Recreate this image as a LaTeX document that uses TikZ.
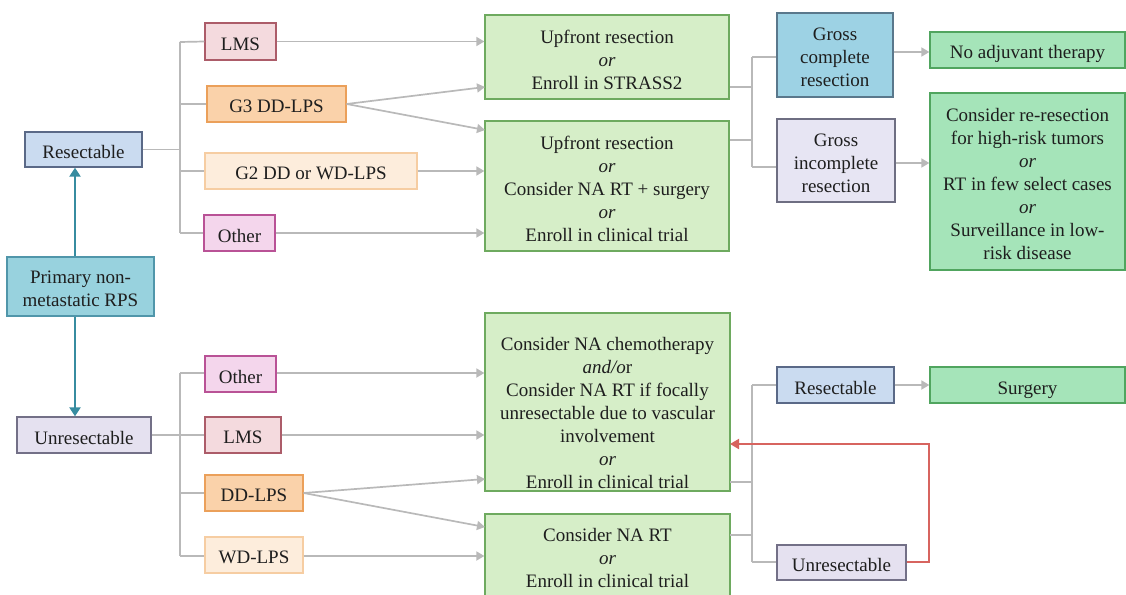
\documentclass[tikz,border=0pt]{standalone}
\usepackage{fontspec}
\setmainfont{Liberation Serif}
\usetikzlibrary{arrows.meta}
\definecolor{txt}{RGB}{30,30,30}
\definecolor{conn}{RGB}{185,185,185}
\definecolor{tealc}{RGB}{55,140,160}
\definecolor{redc}{RGB}{215,100,95}
\definecolor{resF}{RGB}{202,219,240}\definecolor{resD}{RGB}{90,105,135}
\definecolor{unrF}{RGB}{229,225,240}\definecolor{unrD}{RGB}{115,112,135}
\definecolor{priF}{RGB}{152,210,222}\definecolor{priD}{RGB}{80,150,170}
\definecolor{lmsF}{RGB}{244,218,222}\definecolor{lmsD}{RGB}{172,92,105}
\definecolor{gtF}{RGB}{250,210,170}\definecolor{gtD}{RGB}{235,160,90}
\definecolor{gwF}{RGB}{253,237,220}\definecolor{gwD}{RGB}{246,205,162}
\definecolor{othF}{RGB}{244,214,236}\definecolor{othD}{RGB}{185,82,150}
\definecolor{lgF}{RGB}{214,238,200}\definecolor{lgD}{RGB}{110,170,95}
\definecolor{mgF}{RGB}{165,228,185}\definecolor{mgD}{RGB}{80,165,95}
\definecolor{gcF}{RGB}{157,210,228}\definecolor{gcD}{RGB}{90,120,140}
\definecolor{giF}{RGB}{231,229,243}\definecolor{giD}{RGB}{110,110,130}
% \mybox[text shift]{name}{x,y}{w}{h}{fill}{draw}{text}
\newcommand\mybox[8][-2.5pt]{%
  \node[boxst,minimum width=#4pt,minimum height=#5pt,fill=#6,draw=#7] (#2) at (#3) {};
  \node[lbl,yshift=#1] (#2t) at (#2) {#8};}
\begin{document}
\begin{tikzpicture}[x=1pt,y=-1pt,
  boxst/.style={line width=1.3pt, inner sep=0pt},
  lbl/.style={inner sep=0pt, align=center, text=txt,
     font=\fontsize{19}{23}\selectfont},
  ln/.style={draw=conn, line width=1.7pt},
  ar/.style={ln, -{Triangle[length=8pt,width=9pt]}},
  tar/.style={draw=tealc, line width=2.2pt, -{Triangle[length=9pt,width=11pt]}},
  rar/.style={draw=redc, line width=2pt, -{Triangle[length=9pt,width=10pt]}}]
\useasboundingbox (0,0) rectangle (1126,594);
\clip (0,0) rectangle (1126,594);
% left column
\mybox{res}{83.5,149.5}{117}{35}{resF}{resD}{Resectable}
\mybox{prim}{80.5,286.5}{147}{59}{priF}{priD}{Primary non-\\metastatic RPS}
\mybox{unres}{84,435}{134}{36}{unrF}{unrD}{Unresectable}
% top subtypes
\mybox{lms1}{240.5,41.5}{71}{37}{lmsF}{lmsD}{LMS}
\mybox{g3}{276.5,104}{139}{36}{gtF}{gtD}{G3 DD-LPS}
\mybox{g2}{311,171}{212}{36}{gwF}{gwD}{G2 DD or WD-LPS}
\mybox{oth1}{239.5,233}{71}{36}{othF}{othD}{Other}
% bottom subtypes
\mybox{oth2}{240.5,374}{71}{36}{othF}{othD}{Other}
\mybox{lms2}{243,435}{76}{36}{lmsF}{lmsD}{LMS}
\mybox{dd}{254,493}{98}{36}{gtF}{gtD}{DD-LPS}
\mybox{wd}{254,555}{98}{36}{gwF}{gwD}{WD-LPS}
% treatment boxes
\mybox{b1}{607,57}{244}{84}{lgF}{lgD}{Upfront resection\\\textit{or}\\Enroll in STRASS2}
\mybox{b2}{607,186}{244}{130}{lgF}{lgD}{Upfront resection\\\textit{or}\\Consider NA RT + surgery\\\textit{or}\\Enroll in clinical trial}
\node[boxst,minimum width=245pt,minimum height=178pt,fill=lgF,draw=lgD] (b3) at (607.5,402) {};
\node[lbl] (b3t) at (607.5,413) {Consider NA chemotherapy\\\textit{and/o}r\\Consider NA RT if focally\\unresectable due to vascular\\involvement\\\textit{or}\\Enroll in clinical trial};
\node[boxst,minimum width=245pt,minimum height=88pt,fill=lgF,draw=lgD] (b4) at (607.5,558) {};
\node[lbl] (b4t) at (607.5,558) {Consider NA RT\\\textit{or}\\Enroll in clinical trial};
% outcomes
\mybox{gcr}{835,55}{116}{84}{gcF}{gcD}{Gross\\complete\\resection}
\mybox{gir}{836,160.5}{118}{83}{giF}{giD}{Gross\\incomplete\\resection}
\mybox[-4pt]{noadj}{1027.5,50}{195}{36}{mgF}{mgD}{No adjuvant therapy}
\mybox{cons}{1027.5,181.5}{195}{177}{mgF}{mgD}{Consider re-resection\\for high-risk tumors\\\textit{or}\\RT in few select cases\\\textit{or}\\Surveillance in low-\\risk disease}
\mybox{res2}{835.5,385}{117}{36}{resF}{resD}{Resectable}
\mybox[-5pt]{surg}{1027.5,385}{195}{36}{mgF}{mgD}{Surgery}
\mybox{unres2}{841.5,562.5}{129}{35}{unrF}{unrD}{Unresectable}
% coordinates
\coordinate (tx) at (75,0);
\coordinate (tA) at (180,42);
\coordinate (tB) at (180,233);
\coordinate (tC) at (180,373);
\coordinate (tD) at (180,556);
\coordinate (g3u) at (485,87);
\coordinate (g3d) at (485,130);
\coordinate (ddu) at (485,479);
\coordinate (ddd) at (485,527);
\coordinate (rA) at (752,57);
\coordinate (rB) at (752,167);
\coordinate (rC) at (752,385);
\coordinate (rD) at (752,562);
\coordinate (o1) at (730,87);
\coordinate (o2) at (730,140);
\coordinate (o3) at (730,482);
\coordinate (o4) at (730,535);
\coordinate (gy) at (0,52);
\coordinate (iy) at (0,163);
\coordinate (redc1) at (929,444);
\coordinate (redin) at (730,444);
% teal arrows
\draw[tar] (prim.north -| tx) -- (res.south -| tx);
\draw[tar] (prim.south -| tx) -- (unres.north -| tx);
% top tree
\draw[ln] (tA) -- (tB);
\draw[ln] (res.east) -- (res.east -| tA);
\draw[ln] (tA) -- (lms1.west);
\draw[ln] (g3.west -| tA) -- (g3.west);
\draw[ln] (g2.west -| tA) -- (g2.west);
\draw[ln] (tB) -- (oth1.west);
\draw[ar] (lms1.east) -- (lms1.east -| b1.west);
\draw[ar] (g3.east) -- (g3u);
\draw[ar] (g3.east) -- (g3d);
\draw[ar] (g2.east) -- (g2.east -| b2.west);
\draw[ar] (oth1.east) -- (oth1.east -| b2.west);
% bottom tree
\draw[ln] (tC) -- (tD);
\draw[ln] (unres.east) -- (unres.east -| tC);
\draw[ln] (tC) -- (oth2.west |- tC);
\draw[ln] (lms2.west -| tC) -- (lms2.west);
\draw[ln] (dd.west -| tC) -- (dd.west);
\draw[ln] (tD) -- (wd.west |- tD);
\draw[ar] (oth2.east |- tC) -- (b3.west |- tC);
\draw[ar] (lms2.east) -- (lms2.east -| b3.west);
\draw[ar] (dd.east) -- (ddu);
\draw[ar] (dd.east) -- (ddd);
\draw[ar] (wd.east |- tD) -- (b4.west |- tD);
% right top
\draw[ln] (o1) -- (o1 -| rA);
\draw[ln] (o2) -- (o2 -| rA);
\draw[ln] (rA) -- (rB);
\draw[ln] (rA) -- (gcr.west |- rA);
\draw[ln] (rB) -- (gir.west |- rB);
\draw[ar] (gcr.east |- gy) -- (noadj.west |- gy);
\draw[ar] (gir.east |- iy) -- (cons.west |- iy);
% right bottom
\draw[ln] (o3) -- (o3 -| rC);
\draw[ln] (o4) -- (o4 -| rC);
\draw[ln] (rC) -- (rD);
\draw[ln] (rC) -- (res2.west);
\draw[ln] (rD) -- (unres2.west |- rD);
\draw[ar] (res2.east) -- (surg.west);
\draw[rar] (unres2.east |- rD) -| (redc1) -- (redin);
\end{tikzpicture}
\end{document}
